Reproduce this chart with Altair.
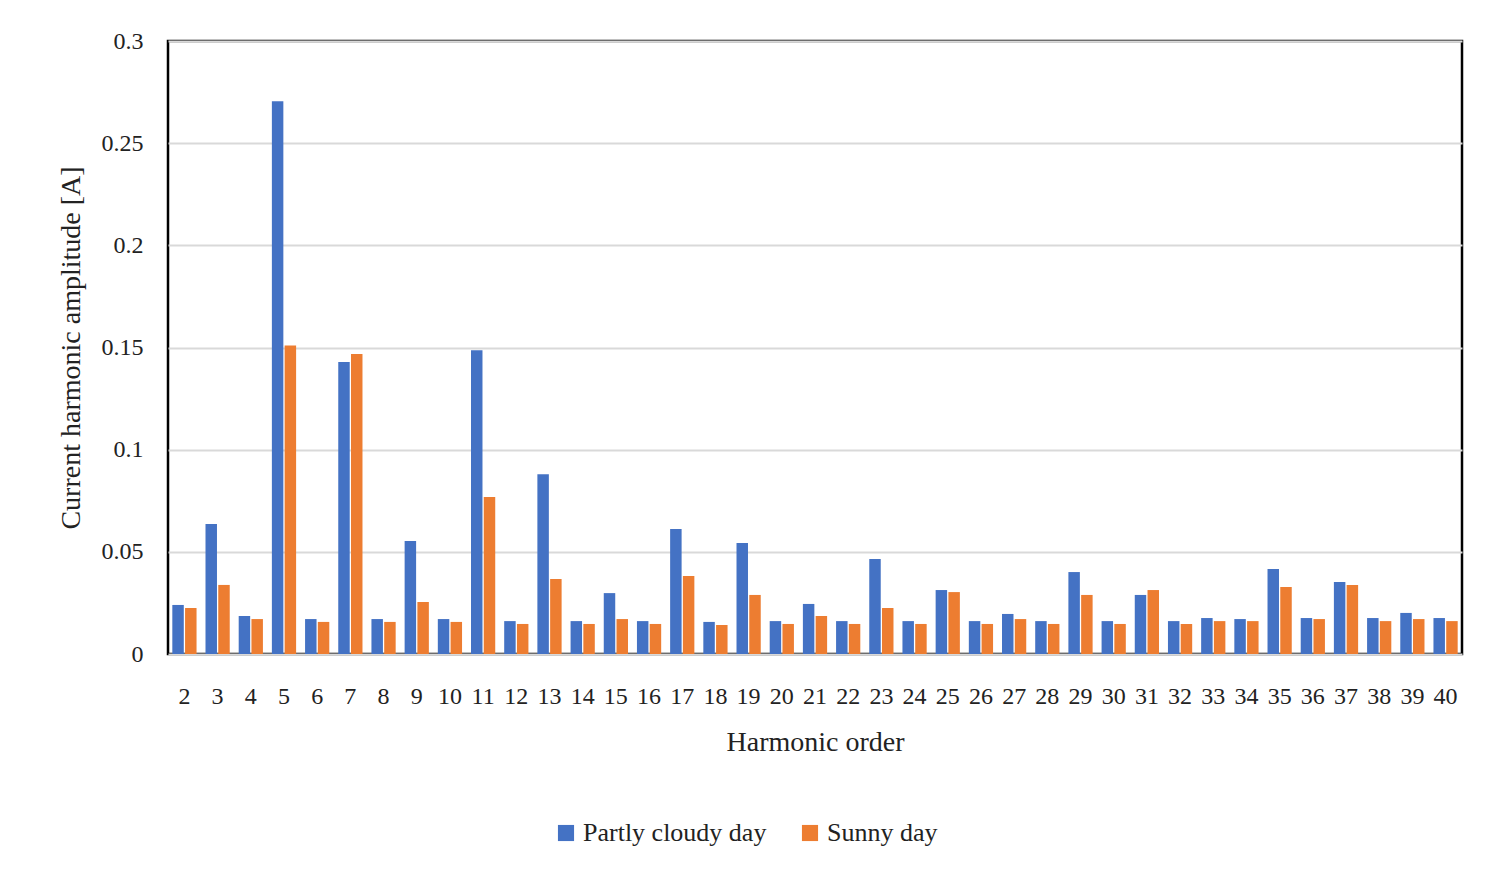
import pandas as pd
import altair as alt

orders = list(range(2, 41))
partly_cloudy = [0.024, 0.0636, 0.0186, 0.2705, 0.0171, 0.1429, 0.0171, 0.0553, 0.0171, 0.1487,
                 0.0161, 0.088, 0.0161, 0.0298, 0.0161, 0.0612, 0.0157, 0.0543, 0.0161, 0.0245,
                 0.0161, 0.0465, 0.0161, 0.0313, 0.0161, 0.0196, 0.0161, 0.0401, 0.0161, 0.0289,
                 0.0161, 0.0176, 0.0171, 0.0416, 0.0176, 0.0352, 0.0176, 0.0201, 0.0176]
sunny = [0.0225, 0.0338, 0.0171, 0.151, 0.0157, 0.1468, 0.0157, 0.0254, 0.0157, 0.0768,
         0.0147, 0.0367, 0.0147, 0.0171, 0.0147, 0.0382, 0.0142, 0.0289, 0.0147, 0.0186,
         0.0147, 0.0225, 0.0147, 0.0303, 0.0147, 0.0171, 0.0147, 0.0289, 0.0147, 0.0313,
         0.0147, 0.0161, 0.0161, 0.0328, 0.0171, 0.0338, 0.0161, 0.0171, 0.0161]
series = ["Partly cloudy day", "Sunny day"]

rows = []
for i, o in enumerate(orders):
    rows.append({"order": o, "series": series[0], "value": partly_cloudy[i]})
    rows.append({"order": o, "series": series[1], "value": sunny[i]})
df = pd.DataFrame(rows)

font = "Liberation Serif"

chart = (
    alt.Chart(df)
    .mark_bar()
    .encode(
        x=alt.X("order:O", title="Harmonic order",
                scale=alt.Scale(paddingInner=0.27, paddingOuter=0.13),
                axis=alt.Axis(labelAngle=0, ticks=False, domain=False, labelPadding=30,
                              labelFontSize=24, titleFontSize=28, titlePadding=20,
                              titleFontWeight="normal", labelColor="#222", titleColor="#222")),
        xOffset=alt.XOffset("series:N", scale=alt.Scale(domain=series, paddingInner=0.1)),
        y=alt.Y("value:Q", title="Current harmonic amplitude [A]",
                scale=alt.Scale(domain=[0, 0.3]),
                axis=alt.Axis(values=[0, 0.05, 0.1, 0.15, 0.2, 0.25, 0.3], ticks=False, domain=False,
                              labelPadding=25, labelFontSize=24, titleFontSize=28, titlePadding=16,
                              titleFontWeight="normal", gridColor="#d9d9d9", gridWidth=2,
                              labelColor="#222", titleColor="#222",
                              labelExpr="datum.value == 0 ? '0' : format(datum.value, '.2~f')")),
        color=alt.Color("series:N", title=None,
                        scale=alt.Scale(domain=series, range=["#4472C4", "#ED7D31"]),
                        legend=alt.Legend(orient="none", legendX=385, legendY=166 + 613,
                                          direction="horizontal", symbolType="square",
                                          symbolSize=260, labelFontSize=26, columnPadding=30,
                                          labelLimit=400, labelColor="#222")),
    )
    .properties(width=1294, height=613,
                autosize=alt.AutoSizeParams(type="none"),
                padding={"left": 160, "top": 33, "right": 15, "bottom": 230})
    .configure(font=font)
    .configure_view(stroke="black", strokeWidth=2.5)
)

chart.save("out.html", embed_options={"renderer": "svg", "actions": False})
